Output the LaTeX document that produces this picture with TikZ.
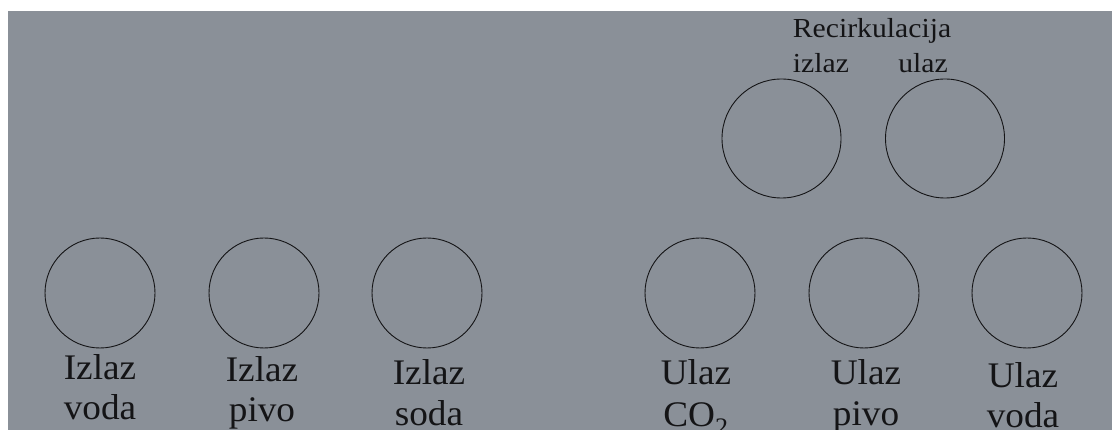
\documentclass[tikz,border=0pt]{standalone}
\usepackage{fontspec}
\setmainfont[FakeStretch=1.08]{Liberation Serif}
\newfontfamily\lblfont[FakeStretch=1.035]{Liberation Serif}
\definecolor{bg}{RGB}{138,144,152}
\definecolor{ink}{RGB}{20,20,22}
\begin{document}
\begin{tikzpicture}[x=1pt,y=-1pt,
  port/.style={circle,draw=ink,line width=0.9pt,inner sep=0pt,minimum size=#1},
  lbl/.style={text=ink,inner sep=0pt,align=center,anchor=base,font=\lblfont\fontsize{36}{40}\selectfont},
  small/.style={text=ink,inner sep=0pt,anchor=base,font=\fontsize{27.5}{32}\selectfont}]
\useasboundingbox (0,0) rectangle (1112,430);
\fill[white] (0,0) rectangle (1112,430);
\fill[bg] (8,11) rectangle (1112,430);
% bottom row
\node[port=110pt] (c1) at (100,293) {};
\node[port=110pt] (c2) at (264,293) {};
\node[port=110pt] (c3) at (427,293) {};
\node[port=110pt] (c4) at (700,293) {};
\node[port=110pt] (c5) at (864,293) {};
\node[port=110pt] (c6) at (1027,293) {};
% top row
\node[port=119pt] (r1) at (781.5,138.5) {};
\node[port=119pt] (r2) at (945,138.5) {};
% labels (anchor at baseline of the last line)
\node[lbl] (l1) at (100,420) {Izlaz\\voda};
\node[lbl] (l2) at (262,422) {Izlaz\\pivo};
\node[lbl] (l3) at (429,425) {Izlaz\\soda};
\node[lbl,font=\lblfont\fontsize{36}{43}\selectfont] (l4) at (696,427) {Ulaz\\CO\textsubscript{2}};
\node[lbl] (l5) at (866,425) {Ulaz\\pivo};
\node[lbl] (l6) at (1023,428) {Ulaz\\voda};
\node[small] (rec) at (872,38) {Recirkulacija};
\node[small] (izl) at (821,73) {izlaz};
\node[small] (ul) at (923,73) {ulaz};
\end{tikzpicture}
\end{document}
